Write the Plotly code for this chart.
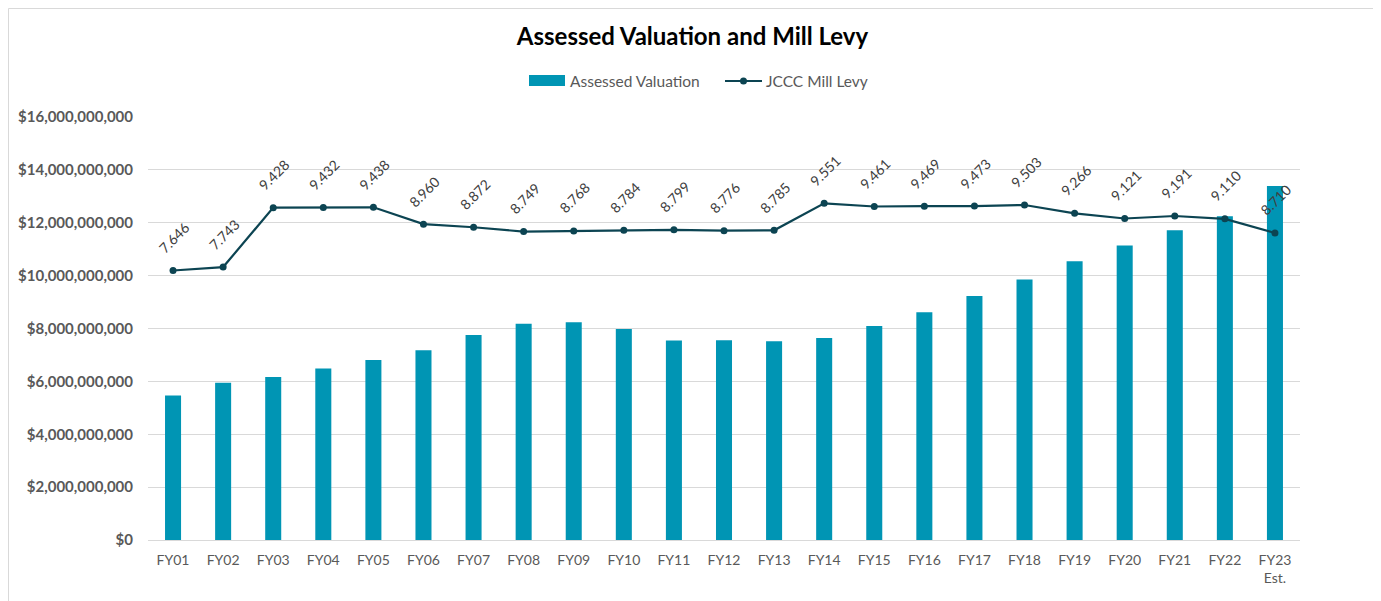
import plotly.graph_objects as go

categories = ["FY01", "FY02", "FY03", "FY04", "FY05", "FY06", "FY07", "FY08", "FY09", "FY10",
              "FY11", "FY12", "FY13", "FY14", "FY15", "FY16", "FY17", "FY18", "FY19", "FY20",
              "FY21", "FY22", "FY23<br>Est."]
assessed_valuation = [5.47e9, 5.95e9, 6.17e9, 6.49e9, 6.81e9, 7.18e9, 7.75e9, 8.18e9, 8.24e9, 7.98e9,
                      7.55e9, 7.56e9, 7.52e9, 7.64e9, 8.09e9, 8.61e9, 9.23e9, 9.85e9, 10.54e9, 11.14e9,
                      11.72e9, 12.25e9, 13.39e9]
mill_levy = [7.646, 7.743, 9.428, 9.432, 9.438, 8.960, 8.872, 8.749, 8.768, 8.784,
             8.799, 8.776, 8.785, 9.551, 9.461, 9.469, 9.473, 9.503, 9.266, 9.121,
             9.191, 9.110, 8.710]
y_ticks = [0, 2e9, 4e9, 6e9, 8e9, 10e9, 12e9, 14e9, 16e9]
y_tick_labels = ["$0", "$2,000,000,000", "$4,000,000,000", "$6,000,000,000", "$8,000,000,000",
                 "$10,000,000,000", "$12,000,000,000", "$14,000,000,000", "$16,000,000,000"]
series_names = ["Assessed Valuation", "JCCC Mill Levy"]

BAR = "#0095B4"
LINE = "#0C4452"
FONT = "Lato"
TXT = "#595959"

OFF = 8  # page body margin
W, H = 1381 - OFF, 601 - OFF
ml, mr, mt, mb = 148 - OFF, 81, 117 - OFF, 61
pw = W - ml - mr
ph = H - mt - mb


def px(x):  # page pixel x -> paper
    return (x - OFF - ml) / pw


def py(y):  # page pixel y -> paper
    return (H - mb - (y - OFF)) / ph


fig = go.Figure()
fig.add_trace(go.Bar(x=categories, y=assessed_valuation, name=series_names[0],
                     marker=dict(color=BAR, line=dict(width=0)), showlegend=False))
fig.add_trace(go.Scatter(x=categories, y=mill_levy, name=series_names[1], yaxis="y2",
                         mode="lines+markers", line=dict(color=LINE, width=2.2),
                         marker=dict(color=LINE, size=7), showlegend=False))

for c, v in zip(categories, mill_levy):
    fig.add_annotation(x=c, y=v, xref="x", yref="y2", text=f"{v:.3f}", textangle=-45,
                       showarrow=False, yshift=33, xshift=1,
                       font=dict(family=FONT, size=14, color="#404040"))

# chart frame
fig.add_shape(type="rect", xref="paper", yref="paper",
              x0=px(OFF + 0.5), x1=px(1378), y0=py(640), y1=py(OFF + 0.5),
              line=dict(color="#D9D9D9", width=1), fillcolor="rgba(0,0,0,0)", layer="below")

# legend (drawn)
fig.add_shape(type="rect", xref="paper", yref="paper", x0=px(529), x1=px(565), y0=py(86), y1=py(75),
              line=dict(width=0), fillcolor=BAR)
fig.add_annotation(xref="paper", yref="paper", x=px(568), y=py(81), xanchor="left", yanchor="middle",
                   text=series_names[0], showarrow=False, font=dict(family=FONT, size=15.5, color=TXT))
fig.add_shape(type="line", xref="paper", yref="paper", x0=px(725), x1=px(762), y0=py(81), y1=py(81),
              line=dict(color=LINE, width=2.2))
fig.add_shape(type="circle", xref="paper", yref="paper", x0=px(740), x1=px(747), y0=py(84.5), y1=py(77.5),
              line=dict(width=0), fillcolor=LINE)
fig.add_annotation(xref="paper", yref="paper", x=px(764), y=py(81), xanchor="left", yanchor="middle",
                   text=series_names[1], showarrow=False, font=dict(family=FONT, size=15.5, color=TXT))

fig.update_layout(
    width=W, height=H,
    margin=dict(l=ml, r=mr, t=mt, b=mb, autoexpand=False),
    paper_bgcolor="white", plot_bgcolor="white",
    title=dict(text="<b>Assessed Valuation and Mill Levy</b>", x=px(692.5), xref="paper", xanchor="center",
               y=1 - (37 - OFF) / H, yanchor="middle", font=dict(family=FONT, size=24, color="#000000")),
    bargap=0.68,
    showlegend=False,
    xaxis=dict(range=[-0.5, len(categories) - 0.5], showgrid=False, showline=True,
               linecolor="#D9D9D9", linewidth=1, automargin=False,
               tickfont=dict(family=FONT, size=14, color=TXT), ticks="",
               ticklabelstandoff=7),
    yaxis=dict(range=[0, 16e9], tickvals=y_ticks, ticktext=y_tick_labels, automargin=False,
               showgrid=True, gridcolor="#D9D9D9", gridwidth=1, zeroline=False,
               tickfont=dict(family=FONT, size=15, color=TXT, weight="bold"),
               ticks="", ticklabelstandoff=14),
    yaxis2=dict(range=[0, 12], overlaying="y", side="right", visible=False),
)

fig.write_html("out.html")
